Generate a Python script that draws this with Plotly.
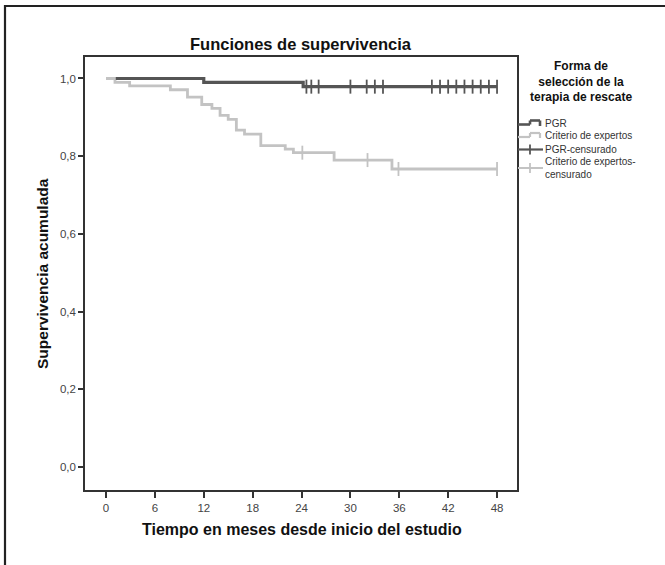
import plotly.graph_objects as go

# ---- data (months, cumulative survival) ----
pgr_t = [1.2, 12.0, 24.2, 48.0]
pgr_s = [1.0, 0.990, 0.979, 0.979]
pgr_cens_t = [24.6, 25.2, 26.1, 30.0, 32.0, 33.0, 34.0, 40, 41, 42, 43, 44, 45, 46, 47, 48]
pgr_cens_s = [0.979] * len(pgr_cens_t)

exp_t = [0, 1.1, 2.9, 7.9, 10.0, 11.75, 13.0, 14.0, 15.0, 16.0, 17.0, 19.0, 22.0, 23.0, 28.0, 35.1, 48.0]
exp_s = [1.0, 0.990, 0.981, 0.971, 0.952, 0.933, 0.923, 0.905, 0.895, 0.867, 0.857, 0.827, 0.818, 0.809, 0.790, 0.767, 0.767]
exp_cens_t = [24.1, 32.1, 35.9, 48.0]
exp_cens_s = [0.809, 0.790, 0.767, 0.767]

x_ticks = [0, 6, 12, 18, 24, 30, 36, 42, 48]
y_ticks = [0.0, 0.2, 0.4, 0.6, 0.8, 1.0]

title = "Funciones de supervivencia"
x_title = "Tiempo en meses desde inicio del estudio"
y_title = "Supervivencia acumulada"
legend_title_lines = ["Forma de", "selección de la", "terapia de rescate"]
legend_labels = ["PGR", "Criterio de expertos", "PGR-censurado", "Criterio de expertos-<br>censurado"]

DARK = "#555555"
LIGHT = "#c3c3c3"
FONT = "Arial, Liberation Sans, sans-serif"

W, H = 665, 565
L, R, T, B = 85, 517, 57, 490

def px(x):
    return (x - L) / (R - L)

def py(y):
    return (B - y) / (B - T)

fig = go.Figure()
fig.add_trace(go.Scatter(x=exp_t, y=exp_s, mode="lines", line=dict(color=LIGHT, width=2.8, shape="hv"),
                         hoverinfo="skip", showlegend=False))
fig.add_trace(go.Scatter(x=exp_cens_t, y=exp_cens_s, mode="markers",
                         marker=dict(symbol="line-ns", size=10, line=dict(color=LIGHT, width=1.8)),
                         showlegend=False))
fig.add_trace(go.Scatter(x=pgr_t, y=pgr_s, mode="lines", line=dict(color=DARK, width=3.2, shape="hv"),
                         showlegend=False))
fig.add_trace(go.Scatter(x=pgr_cens_t, y=pgr_cens_s, mode="markers",
                         marker=dict(symbol="line-ns", size=10, line=dict(color=DARK, width=1.8)),
                         showlegend=False))

shapes = []
# outer frame
shapes.append(dict(type="rect", xref="paper", yref="paper", x0=px(5), x1=px(680), y0=py(580), y1=py(6),
                   line=dict(color="#222", width=2.2), fillcolor="rgba(0,0,0,0)", layer="below"))

def seg(x0, y0, x1, y1, color, w):
    shapes.append(dict(type="line", xref="paper", yref="paper", x0=px(x0), y0=py(y0), x1=px(x1), y1=py(y1),
                       line=dict(color=color, width=w)))

# PGR step icon
seg(518, 124.5, 530, 124.5, DARK, 2.6)
seg(530, 124.5, 530, 120.5, DARK, 2.6)
seg(530, 120.5, 540, 120.5, DARK, 2.6)
seg(540, 120.5, 540, 126, DARK, 2.6)
# Criterio step icon
seg(518, 137, 530, 137, LIGHT, 2.2)
seg(530, 137, 530, 133, LIGHT, 2.2)
seg(530, 133, 540, 133, LIGHT, 2.2)
seg(540, 133, 540, 138, LIGHT, 2.2)
# PGR-censurado icon
seg(518, 149.5, 543, 149.5, DARK, 2.2)
seg(530, 144.5, 530, 154.5, DARK, 1.8)
# Criterio censurado icon
seg(518, 168, 543, 168, LIGHT, 2.0)
seg(530, 163, 530, 173, LIGHT, 1.8)

annotations = [
    dict(text="<b>" + title + "</b>", x=px(301), y=py(44), xref="paper", yref="paper", showarrow=False,
         font=dict(family=FONT, size=16.5, color="#111"), xanchor="center", yanchor="middle"),
    dict(text="<b>" + x_title + "</b>", x=px(302), y=py(529), xref="paper", yref="paper", showarrow=False,
         font=dict(family=FONT, size=16, color="#111"), xanchor="center", yanchor="middle"),
    dict(text="<b>" + y_title + "</b>", x=px(42), y=py(274), xref="paper", yref="paper", showarrow=False,
         textangle=-90, font=dict(family=FONT, size=15.5, color="#111"), xanchor="center", yanchor="middle"),
    dict(text="<br>".join("<b>" + s + "</b>" for s in legend_title_lines), x=px(581), y=py(81),
         xref="paper", yref="paper", showarrow=False, align="center",
         font=dict(family=FONT, size=12, color="#111"), xanchor="center", yanchor="middle"),
]
leg_y = [123.5, 135, 149.5, 168]
for lab, yy in zip(legend_labels, leg_y):
    annotations.append(dict(text=lab, x=px(543), y=py(yy), xref="paper", yref="paper", showarrow=False,
                            align="left", font=dict(family=FONT, size=10, color="#333"),
                            xanchor="left", yanchor="middle"))

fig.update_layout(
    width=W, height=H,
    margin=dict(l=L, r=W - R, t=T, b=H - B, pad=0),
    paper_bgcolor="white", plot_bgcolor="white",
    separators=",.",
    showlegend=False,
    hovermode=False,
    shapes=shapes,
    annotations=annotations,
    xaxis=dict(range=[-2.58, 50.45], tickvals=x_ticks, showgrid=False, zeroline=False,
               showline=True, mirror=True, linecolor="#333", linewidth=1.5,
               ticks="outside", ticklen=6, tickwidth=1.5, tickcolor="#333",
               tickfont=dict(family=FONT, size=11.5, color="#444")),
    yaxis=dict(range=[-0.0592, 1.0553], tickvals=y_ticks, tickformat=".1f", showgrid=False, zeroline=False,
               showline=True, mirror=True, linecolor="#333", linewidth=1.5,
               ticks="outside", ticklen=5, tickwidth=1.5, tickcolor="#333",
               tickfont=dict(family=FONT, size=11.5, color="#444")),
)

fig.write_html("out.html", config={"displayModeBar": False},
               post_script="document.body.style.margin='0px';")
